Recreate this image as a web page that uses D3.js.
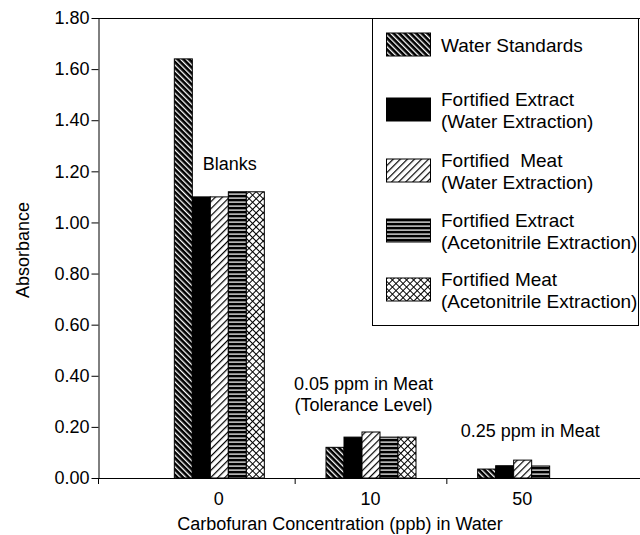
<!DOCTYPE html>
<html><head><meta charset="utf-8">
<script src="https://cdn.jsdelivr.net/npm/d3@7"></script>
<style>
body{margin:0;background:#fff}
svg{display:block}
text{font-family:"Liberation Sans",Arial,Helvetica,sans-serif;fill:#000;white-space:pre}
</style>
</head><body>
<svg id="chart" width="640" height="535"></svg>
<script>
// ---- data ----
const categories = ["0", "10", "50"];
const seriesNames = [
  "Water Standards",
  "Fortified Extract (Water Extraction)",
  "Fortified Meat (Water Extraction)",
  "Fortified Extract (Acetonitrile Extraction)",
  "Fortified Meat (Acetonitrile Extraction)"
];
const legendLines = [
  ["Water Standards"],
  ["Fortified Extract", "(Water Extraction)"],
  ["Fortified  Meat", "(Water Extraction)"],
  ["Fortified Extract", "(Acetonitrile Extraction)"],
  ["Fortified Meat", "(Acetonitrile Extraction)"]
];
const waterStandards   = [1.64, 0.12, 0.035];
const extractWater     = [1.10, 0.16, 0.048];
const meatWater        = [1.10, 0.18, 0.070];
const extractAcetonitr = [1.12, 0.16, 0.047];
const meatAcetonitr    = [1.12, 0.16, null];
const seriesValues = [waterStandards, extractWater, meatWater, extractAcetonitr, meatAcetonitr];
const yTickValues = [0, 0.2, 0.4, 0.6, 0.8, 1.0, 1.2, 1.4, 1.6, 1.8];
const yTitle = "Absorbance";
const xTitle = "Carbofuran Concentration (ppb) in Water";
const annotations = [
  {cat: "0", lines: ["Blanks"]},
  {cat: "10", lines: ["0.05 ppm in Meat", "(Tolerance Level)"]},
  {cat: "50", lines: ["0.25 ppm in Meat"]}
];

(function () {
// ---- layout ----
const svg = d3.select("#chart");
const FF = '"Liberation Sans",Arial,sans-serif';
const FS = 18;
const mL = 98, mR = 640, mT = 18, mB = 478;

const y = d3.scaleLinear().domain([0, 1.8]).range([mB, mT]);
const x0 = d3.scaleBand().domain(categories).range([143, 598]).padding(0);
const groupW = 90;
const x1 = d3.scaleBand().domain(d3.range(seriesNames.length))
  .range([(x0.bandwidth() - groupW) / 2, (x0.bandwidth() + groupW) / 2]).padding(0);

// ---- patterns ----
const defs = svg.append("defs");
function pat(id, size, rot, bg, draw) {
  const p = defs.append("pattern").attr("id", id)
    .attr("patternUnits", "userSpaceOnUse")
    .attr("width", size).attr("height", size);
  if (rot) p.attr("patternTransform", `rotate(${rot})`);
  p.append("rect").attr("width", size).attr("height", size).attr("fill", bg);
  draw(p, size);
}
pat("p0", 4, -45, "#000", (p, s) => p.append("rect").attr("x", 0).attr("y", 0).attr("width", 1.3).attr("height", s).attr("fill", "#fff"));
pat("p2", 5, 45, "#fff", (p, s) => p.append("rect").attr("x", 0).attr("y", 0).attr("width", 1.2).attr("height", s).attr("fill", "#000"));
pat("p3", 4, 0, "#000", (p, s) => p.append("rect").attr("x", 0).attr("y", 1.5).attr("width", s).attr("height", 1.2).attr("fill", "#fff"));
pat("p4", 5, 45, "#fff", (p, s) => {
  p.append("rect").attr("x", 0).attr("y", 0).attr("width", 1).attr("height", s).attr("fill", "#000");
  p.append("rect").attr("x", 0).attr("y", 0).attr("width", s).attr("height", 1).attr("fill", "#000");
});
const fills = ["url(#p0)", "#000", "url(#p2)", "url(#p3)", "url(#p4)"];

// ---- frame ----
svg.append("line").attr("x1", mL).attr("x2", mR).attr("y1", mT + 0.5).attr("y2", mT + 0.5)
  .attr("stroke", "#000").attr("stroke-width", 1);

// ---- bars ----
const groups = svg.append("g").selectAll("g").data(categories).join("g")
  .attr("transform", d => `translate(${x0(d)},0)`);
groups.selectAll("rect")
  .data((c, ci) => seriesValues.map((vals, si) => ({si, v: vals[ci]})).filter(d => d.v != null))
  .join("rect")
  .attr("x", d => x1(d.si) + 0.5)
  .attr("width", x1.bandwidth())
  .attr("y", d => y(d.v))
  .attr("height", d => y(0) - y(d.v))
  .attr("fill", d => fills[d.si])
  .attr("stroke", "#000").attr("stroke-width", 1);

// ---- y axis ----
const yAxis = svg.append("g").attr("transform", `translate(${mL + 0.5},0)`)
  .call(d3.axisLeft(y).tickValues(yTickValues).tickFormat(d3.format(".2f"))
    .tickSize(7).tickSizeOuter(0).tickPadding(2));
yAxis.selectAll("text").attr("font-size", FS).attr("font-family", FF);
yAxis.selectAll("line,path").attr("stroke", "#000");

// ---- x axis ----
svg.append("line").attr("x1", mL).attr("x2", mR).attr("y1", mB + 0.5).attr("y2", mB + 0.5)
  .attr("stroke", "#000");
const xAxis = svg.append("g").attr("transform", `translate(0,${mB})`)
  .call(d3.axisBottom(x0).tickSize(0).tickPadding(14));
xAxis.select(".domain").remove();
xAxis.selectAll("text").attr("font-size", FS).attr("font-family", FF);
svg.append("g").selectAll("line").data(categories.slice(1)).join("line")
  .attr("x1", d => x0(d) + 0.5).attr("x2", d => x0(d) + 0.5)
  .attr("y1", mB).attr("y2", mB + 6).attr("stroke", "#000");
svg.append("line").attr("x1", mL + 0.5).attr("x2", mL + 0.5)
  .attr("y1", mB).attr("y2", mB + 6).attr("stroke", "#000");

// ---- titles ----
svg.append("text").attr("transform", `translate(29,250) rotate(-90)`)
  .attr("text-anchor", "middle").attr("font-size", FS).text(yTitle);
svg.append("text").attr("x", 340).attr("y", 530)
  .attr("text-anchor", "middle").attr("font-size", FS).text(xTitle);

// ---- annotations ----
const annoPos = {"0": {dx: 11, y: 170}, "10": {dx: -7, y: 390}, "50": {dx: 8, y: 437}};
annotations.forEach(a => {
  const ap = annoPos[a.cat];
  const cx = x0(a.cat) + x0.bandwidth() / 2 + ap.dx;
  const t = svg.append("text").attr("text-anchor", "middle").attr("font-size", FS);
  a.lines.forEach((ln, i) => t.append("tspan").attr("x", cx).attr("y", ap.y + i * 21).text(ln));
});

// ---- legend ----
const lg = svg.append("g");
lg.append("rect").attr("x", 372.5).attr("y", mT + 0.5).attr("width", 266).attr("height", 307)
  .attr("fill", "#fff").attr("stroke", "#000").attr("stroke-width", 1);
const rowY = [45, 110, 171, 231, 290];
legendLines.forEach((lines, i) => {
  const cy = rowY[i];
  lg.append("rect").attr("x", 386.5).attr("y", cy - 12).attr("width", 44).attr("height", 23)
    .attr("fill", fills[i]).attr("stroke", "#000");
  const n = lines.length;
  lines.forEach((ln, j) => {
    lg.append("text").attr("x", 441).attr("y", cy + 7 + (j - (n - 1) / 2) * 22)
      .attr("font-size", 19).text(ln);
  });
});
})();
</script>
</body></html>
